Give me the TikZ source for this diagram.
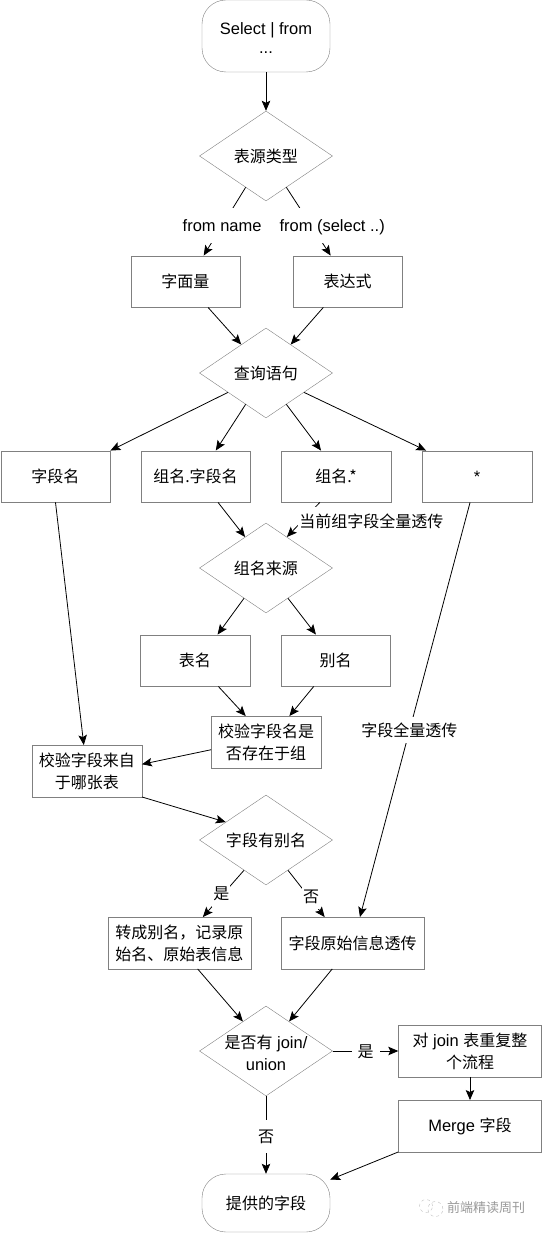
\documentclass[tikz,border=0pt]{standalone}
\usepackage{fontspec}
\setmainfont{Liberation Sans}[Scale=1.03]
\newfontfamily\cjk{Noto Sans CJK SC}
\newcommand{\zh}[1]{{\cjk #1}}
\usepackage{tikz}
\usetikzlibrary{shapes.geometric, arrows.meta, positioning}

\begin{document}
\begin{tikzpicture}[
    node distance=100pt,
    every node/.style={font=\fontsize{16}{22}\selectfont},
    startstop/.style={rectangle, rounded corners=24pt, minimum width=128pt, text centered, align=center, inner sep=0pt, draw=black!50},
    process/.style={rectangle, minimum width=109.5pt, minimum height=51.5pt, text centered, align=center, inner sep=0pt, draw=black!50},
    wideprocess/.style={process, minimum width=143pt},
    decision/.style={diamond, minimum width=133pt, minimum height=90pt, text centered, inner sep=0pt, draw=black!50, aspect=1.48},
    arrow/.style={line width=0.8pt, -{Stealth[length=10pt, width=8.5pt, inset=2pt]}},
    edgelabel/.style={fill=white, inner sep=1pt, text height=14pt, text depth=2pt, minimum height=26pt},
    stamp/.style={circle, dashed, inner sep=0pt, draw=black!25}
]
\useasboundingbox (-266pt,36pt) rectangle (276pt,-1197pt);

\node (start) [startstop, minimum height=72pt, label={[align=center, yshift=-2.5pt]center:Select | from\\[-3pt]...}] {};
\node (srctype) [decision, below of=start, yshift=-20pt] {\zh{表源类型}};
\node (literal) [process, below of=srctype, xshift=-80.5pt, yshift=-25.5pt] {\zh{字面量}};
\node (express) [process, right of=literal, xshift=62pt] {\zh{表达式}};
\node (query) [decision, below of=srctype, yshift=-117pt] {\zh{查询语句}};
\node (groupfield) [process, below of=query, xshift=-70.5pt, yshift=-3.5pt] {\zh{组名.字段名}};
\node (fieldname) [process, left of=groupfield, xshift=-40pt] {\zh{字段名}};
\node (groupall) [process, right of=groupfield, xshift=40.5pt] {\zh{组名.*}};
\node (allstar) [process, right of=groupall, xshift=41pt] {*};
\node (groupsrc) [decision, below of=query, yshift=-95pt] {\zh{组名来源}};
\node (tablename) [process, below of=groupsrc, xshift=-71pt, yshift=7.5pt] {\zh{表名}};
\node (aliasname) [process, right of=tablename, xshift=40.5pt] {\zh{别名}};
\node (checkgroup) [process, below of=groupsrc, yshift=-74pt] {\zh{校验字段名是}\\\zh{否存在于组}};
\node (checktable) [process, left of=checkgroup, xshift=-79pt, yshift=-29pt] {\zh{校验字段来自}\\\zh{于哪张表}};
\node (hasalias) [decision, below of=checkgroup, yshift=2pt] {\zh{字段有别名}};
\node (torename) [wideprocess, below of=hasalias, xshift=-86.5pt, yshift=-3pt] {\zh{转成别名，记录原}\\\zh{始名、原始表信息}};
\node (rawfield) [wideprocess, right of=torename, xshift=73pt] {\zh{字段原始信息透传}};
\node (hasjoin) [decision, below of=hasalias, yshift=-111pt, label={[align=center, yshift=-2pt]center:\zh{是否有} join/\\union}] {};
\node (redo) [wideprocess, right of=hasjoin, xshift=104pt] {\zh{对} join \zh{表重复整}\\\zh{个流程}};
\node (merge) [wideprocess, below of=redo, yshift=25pt] {Merge \zh{字段}};
\node (final) [startstop, minimum height=58pt, below of=hasjoin, yshift=-52pt] {\zh{提供的字段}};

% watermark
\node (stampname) [right of=final, xshift=120pt, yshift=-5pt, text=black!40, font=\fontsize{13}{16}\selectfont] {\zh{前端精读周刊}};
\node (stampa) [stamp, minimum size=13pt, left of=stampname, xshift=40pt, yshift=2pt] {};
\node (stampb) [stamp, minimum size=15pt, right=-5pt of stampa, yshift=-3pt] {};

\draw [arrow] (start) -- (srctype);
\draw [arrow] (srctype.237) -- node[edgelabel, minimum height=35pt, pos=.56] {from name} (literal.55);
\draw [arrow] (srctype.303) -- node[edgelabel, minimum height=35pt, pos=.56, xshift=21pt] {from (select ..)} (express.123);
\draw [arrow] (literal.311) -- (query.131);
\draw [arrow] (express.227) -- (query.49);
\draw [arrow] (query.207) -- (fieldname.north east);
\draw [arrow] (query.237) -- (groupfield.52);
\draw [arrow] (query.303) -- (groupall.120);
\draw [arrow] (query.333) -- (allstar.153);
\draw [arrow] (groupfield.311) -- (groupsrc.124);
\draw [arrow] (groupall.238) -- node[edgelabel, minimum height=30pt, pos=.56, xshift=70pt] {\zh{当前组字段全量透传}} (groupsrc.56);
\draw [arrow] (groupsrc.234) -- (tablename.49);
\draw [arrow] (groupsrc.306) -- (aliasname.127);
\draw [arrow] (tablename.312) -- (checkgroup.128);
\draw [arrow] (aliasname.230) -- (checkgroup.48);
\draw [arrow] (checkgroup.188) -- (checktable.7);
\draw [arrow] (fieldname.south) -- (checktable.97);
\draw [arrow] (checktable.south east) -- (hasalias.156);
\draw [arrow] (hasalias.234) -- node[edgelabel, pos=.5, xshift=-2pt] {\zh{是}} (torename.48);
\draw [arrow] (hasalias.306) -- node[edgelabel, pos=.55, xshift=3pt] {\zh{否}} (rawfield.137);
\draw [arrow] (allstar.255) -- node[edgelabel, pos=.55] {\zh{字段全量透传}} (rawfield.74);
\draw [arrow] (torename.305) -- (hasjoin.128);
\draw [arrow] (rawfield.232) -- (hasjoin.52);
\draw [arrow] (hasjoin) -- node[edgelabel, minimum width=28pt, pos=.5] {\zh{是}} (redo);
\draw [arrow] (redo) -- (merge);
\draw [arrow] (hasjoin) -- node[edgelabel, minimum height=33pt, pos=.52] {\zh{否}} (final);
\draw [arrow] (merge.south west) -- (final.20);

\end{tikzpicture}
\end{document}
